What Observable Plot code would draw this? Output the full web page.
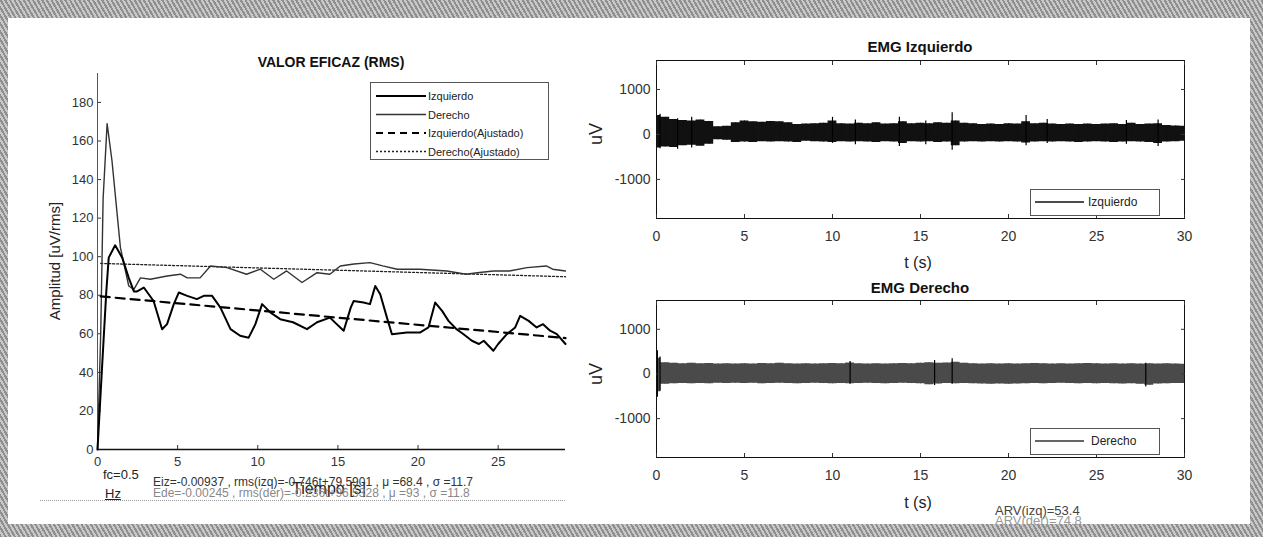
<!DOCTYPE html>
<html><head><meta charset="utf-8">
<script src="https://cdn.jsdelivr.net/npm/d3@7"></script>
<script src="https://cdn.jsdelivr.net/npm/@observablehq/plot@0.6"></script>
<style>
html,body{margin:0;padding:0;}
body{width:1263px;height:537px;position:relative;overflow:hidden;
  background:repeating-linear-gradient(60deg,#8f8f8f 0 2px,#c9c9c9 2px 4px);
  font-family:Arial,"Liberation Sans",sans-serif;color:#222;}
#panel{position:absolute;left:8px;top:18px;width:1242px;height:506px;background:#fff;}
.abs{position:absolute;white-space:nowrap;line-height:1;}
.chart{position:absolute;}
.leg{position:absolute;background:#fff;border:1px solid #555;font-size:11px;}
.leg svg{position:absolute;left:0;top:0;}
.leg span{position:absolute;white-space:nowrap;line-height:14px;}
</style></head>
<body>
<div id="panel"></div>
<div class="abs" style="left:40px;top:500px;width:525px;border-top:1px dotted #999;"></div>
<div id="left" class="chart" style="left:0;top:0;"></div>
<div id="rtop" class="chart" style="left:600px;top:0;"></div>
<div id="rbot" class="chart" style="left:600px;top:240px;"></div>
<script>
// ---------- data: RMS chart (left) ----------
const rmsIzqT = [0,0.3,0.55,0.7,1.1,1.54,1.95,2.27,2.47,2.89,3.5,4.03,4.34,4.76,5.07,5.6,6.2,6.63,7.15,7.67,8.3,8.9,9.43,9.85,10.27,10.8,11.4,12.2,13.07,13.7,14.5,15.36,15.8,15.98,16.6,17.0,17.33,17.64,18.06,18.37,19.3,20.14,20.65,21.07,21.5,21.9,22.4,22.84,23.36,23.8,24.1,24.4,24.7,25.0,25.54,26.06,26.37,26.9,27.4,27.8,28.24,28.66,29.2];
const rmsIzqV = [0,45,82,99.5,105.9,99.5,89,82,82,84,77,62.4,65,75.4,81.4,79.7,78,79.7,79.7,73.6,62.4,59,58,65,75.4,71,67.6,66,62.4,66,68.4,61.6,73.6,77,76.2,75.4,84.8,80.5,68.4,59.8,60.7,60.7,63.3,76.2,71.9,66.7,62.4,59.8,56.4,54.7,56.4,53.8,51.2,54.7,59.8,63.3,69.3,66.7,63.3,65,61.6,59.8,54.7];
const rmsDerT = [0,0.2,0.35,0.6,0.9,1.43,1.95,2.27,2.68,3.3,4.34,5.17,5.6,6.4,7.05,8.08,9.3,10.16,11.0,11.8,12.76,13.7,14.5,15.15,16.0,17.0,17.8,18.7,20.1,21.8,23.0,23.7,24.7,25.7,26.8,28.0,28.4,29.2];
const rmsDerV = [0,60,130,169,150,104.7,84.8,83,89,88.3,90,90.9,89,89,95.2,94.3,90.9,93.5,88.3,92.6,86.6,91.7,90.9,95.2,96.2,96.9,95.2,93.5,93.5,92.6,90.9,91.7,92.6,92.6,94.3,95.2,93.5,92.6];
const fitT = [0.2, 29.2];
const fitIzqV = [79.4, 57.8];
const fitDerV = [96.5, 89.6];
const leftXTicks = [0,5,10,15,20,25];
const leftYTicks = [0,20,40,60,80,100,120,140,160,180];

// ---------- data: EMG envelopes (right) ----------
const emgT = [0,0.5,1,1.5,2,2.5,3,3.5,4,4.5,5,5.5,6,6.5,7,7.5,8,8.5,9,9.5,10,10.5,11,11.5,12,12.5,13,13.5,14,14.5,15,15.5,16,16.5,17,17.5,18,18.5,19,19.5,20,20.5,21,21.5,22,22.5,23,23.5,24,24.5,25,25.5,26,26.5,27,27.5,28,28.5,29,29.5,30];
const izqHi = [420,380,330,310,300,320,290,170,180,260,300,280,270,290,280,260,220,230,240,250,300,240,230,250,240,260,230,240,280,240,250,240,260,250,300,250,240,220,230,220,240,230,280,240,250,230,220,230,220,230,220,230,240,220,250,220,230,240,200,190,180];
const izqLo = [-300,-280,-290,-250,-240,-260,-220,-120,-130,-180,-170,-180,-160,-170,-160,-170,-180,-150,-160,-170,-180,-160,-170,-160,-170,-180,-160,-170,-200,-160,-170,-160,-180,-170,-250,-170,-160,-170,-160,-170,-160,-170,-190,-170,-160,-170,-160,-170,-180,-170,-160,-170,-180,-170,-160,-170,-180,-200,-170,-160,-150];
const izqSpikeT = [0.2,1.2,2.0,10.0,11.3,13.8,15.3,16.8,21.0,22.2,26.7,28.5];
const izqSpikeHi = [450,350,380,380,320,380,300,480,420,330,310,320];
const izqSpikeLo = [-320,-330,-300,-200,-230,-270,-230,-350,-250,-200,-220,-270];
const derHi = [350,250,240,230,240,230,235,225,230,225,230,225,235,230,240,230,225,230,225,230,235,230,245,230,225,230,225,230,235,230,240,250,240,245,260,240,230,225,230,225,230,225,230,235,230,225,230,225,230,235,230,225,230,225,230,225,230,225,230,225,220];
const derLo = [-400,-230,-220,-215,-220,-215,-220,-210,-215,-210,-215,-210,-220,-215,-210,-215,-220,-215,-210,-215,-220,-215,-220,-215,-210,-215,-220,-215,-210,-215,-220,-240,-225,-215,-220,-215,-220,-225,-230,-225,-230,-225,-220,-215,-220,-215,-210,-215,-220,-215,-220,-215,-220,-225,-220,-230,-250,-225,-220,-215,-215];
const derSpikeT = [0.05,0.2,11,15.8,16.8,27.8];
const derSpikeHi = [520,380,280,300,340,240];
const derSpikeLo = [-520,-380,-230,-260,-230,-290];
const rightXTicks = [0,5,10,15,20,25,30];
const rightYTicks = [-1000,0,1000];

// ---------- build ----------
const zip = (t, v) => t.map((x, i) => ({t: x, v: v[i]}));
const font = "Arial, 'Liberation Sans', sans-serif";
const plain = d => String(d).replace("\u2212", "-");

const left = Plot.plot({
  width: 600, height: 510,
  marginLeft: 97, marginRight: 35, marginTop: 73, marginBottom: 61,
  x: {domain: [0, 29.2]}, y: {domain: [0, 195]},
  style: {fontFamily: font, fontSize: "13px", color: "#333", background: "transparent", overflow: "visible"},
  marks: [
    Plot.axisX({ticks: leftXTicks, tickSize: -4, tickPadding: 11, tickFormat: plain, label: null}),
    Plot.axisY({ticks: leftYTicks, tickSize: -4, tickPadding: 8, tickFormat: plain, label: null}),
    Plot.ruleX([0], {stroke: "#555"}),
    Plot.ruleY([0], {stroke: "#111", strokeWidth: 1.5}),
    Plot.line(zip(fitT, fitDerV), {x: "t", y: "v", stroke: "#222", strokeWidth: 1.3, strokeDasharray: "2,2"}),
    Plot.line(zip(rmsDerT, rmsDerV), {x: "t", y: "v", stroke: "#333", strokeWidth: 1.4}),
    Plot.line(zip(fitT, fitIzqV), {x: "t", y: "v", stroke: "#000", strokeWidth: 2.2, strokeDasharray: "9,6"}),
    Plot.line(zip(rmsIzqT, rmsIzqV), {x: "t", y: "v", stroke: "#000", strokeWidth: 2})
  ]
});
document.getElementById("left").appendChild(left);

function emgPlot(hi, lo, sT, sHi, sLo, fill, mTop, mBottom) {
  const band = emgT.map((t, i) => ({t, hi: hi[i], lo: lo[i]}));
  const spikes = sT.map((t, i) => ({t, hi: sHi[i], lo: sLo[i]}));
  return Plot.plot({
    width: 620, height: 260,
    marginLeft: 56, marginRight: 36, marginTop: mTop, marginBottom: mBottom,
    x: {domain: [0, 30]}, y: {domain: [-1870, 1645]},
    style: {fontFamily: font, fontSize: "14px", color: "#333", background: "transparent", overflow: "visible"},
    marks: [
      Plot.areaY(band, {x: "t", y1: "lo", y2: "hi", fill, curve: "step"}),
      Plot.ruleX(band, {x: "t", y1: "lo", y2: "hi", stroke: fill, strokeWidth: 1}),
      Plot.ruleX(spikes, {x: "t", y1: "lo", y2: "hi", stroke: "#000", strokeWidth: 1.2}),
      Plot.frame({stroke: "#111"}),
      Plot.axisX({ticks: rightXTicks, tickSize: -4, tickPadding: 17, tickFormat: plain, label: null}),
      Plot.axisX({ticks: rightXTicks, anchor: "top", tickSize: -4, tickFormat: () => "", label: null}),
      Plot.axisY({ticks: rightYTicks, tickSize: -4, tickPadding: 10, tickFormat: plain, label: null}),
      Plot.axisY({ticks: rightYTicks, anchor: "right", tickSize: -4, tickFormat: () => "", label: null})
    ]
  });
}
document.getElementById("rtop").appendChild(emgPlot(izqHi, izqLo, izqSpikeT, izqSpikeHi, izqSpikeLo, "#111", 60, 42));
document.getElementById("rbot").appendChild(emgPlot(derHi, derLo, derSpikeT, derSpikeHi, derSpikeLo, "#4a4a4a", 60, 43));

// ---------- text ----------
function txt(s, x, y, css) {
  const d = document.createElement("div");
  d.className = "abs"; d.textContent = s;
  d.style.cssText += `left:${x}px;top:${y}px;` + (css || "");
  document.body.appendChild(d);
  return d;
}
function centered(s, cx, cy, css, rot) {
  const d = txt(s, cx, cy, css);
  d.style.transform = "translate(-50%,-50%)" + (rot ? " rotate(-90deg)" : "");
  return d;
}
centered("VALOR EFICAZ (RMS)", 331, 62, "font-weight:bold;font-size:14px;color:#111;");
centered("EMG Izquierdo", 920, 46, "font-weight:bold;font-size:15px;color:#111;");
centered("EMG Derecho", 920, 287, "font-weight:bold;font-size:15px;color:#111;");
centered("Amplitud [uV/rms]", 54, 261, "font-size:15px;", true);
centered("uV", 596, 134, "font-size:18px;", true);
centered("uV", 596, 374, "font-size:18px;", true);
centered("t (s)", 918, 263, "font-size:16px;");
centered("t (s)", 918, 503, "font-size:16px;");
centered("Tiempo [s]", 329, 489, "font-size:16px;color:#222;");
txt("fc=0.5", 103, 468, "font-size:13px;");
txt("Hz", 105, 487, "font-size:13px;text-decoration:underline;");
txt("Eiz=-0.00937 ,  rms(izq)=-0.746t+79.5901 , μ =68.4 , σ =11.7", 153, 476, "font-size:12px;color:#333;");
txt("Ede=-0.00245 ,  rms(der)=-0.236t+96.5328 , μ =93 , σ =11.8", 153, 487, "font-size:12px;color:#888;");
txt("ARV(izq)=53.4", 995, 504, "font-size:13px;color:#444;");
txt("ARV(der)=74.8", 995, 514, "font-size:13px;color:#999;");

// ---------- legends ----------
function legend(x, y, w, h, rows, top0, step, lineX1, lineX2, textX, fs) {
  const box = document.createElement("div");
  box.className = "leg";
  box.style.cssText += `left:${x}px;top:${y}px;width:${w}px;height:${h}px;font-size:${fs}px;`;
  rows.forEach((r, i) => {
    const cy = top0 + i * step;
    const svg = document.createElementNS("http://www.w3.org/2000/svg", "svg");
    svg.setAttribute("width", w); svg.setAttribute("height", h);
    svg.style.cssText = "position:absolute;left:0;top:0;overflow:visible";
    const ln = document.createElementNS("http://www.w3.org/2000/svg", "line");
    ln.setAttribute("x1", lineX1); ln.setAttribute("x2", lineX2);
    ln.setAttribute("y1", cy); ln.setAttribute("y2", cy);
    ln.setAttribute("stroke", r.c); ln.setAttribute("stroke-width", r.w);
    if (r.d) ln.setAttribute("stroke-dasharray", r.d);
    svg.appendChild(ln); box.appendChild(svg);
    const sp = document.createElement("span");
    sp.textContent = r.label;
    sp.style.cssText = `left:${textX}px;top:${cy - 7}px;`;
    box.appendChild(sp);
  });
  document.body.appendChild(box);
}
const leftLegendLabels = ["Izquierdo", "Derecho", "Izquierdo(Ajustado)", "Derecho(Ajustado)"];
legend(370, 82, 177, 76, [
  {label: leftLegendLabels[0], c: "#000", w: 2},
  {label: leftLegendLabels[1], c: "#333", w: 1.4},
  {label: leftLegendLabels[2], c: "#000", w: 2.2, d: "7,5"},
  {label: leftLegendLabels[3], c: "#222", w: 1.3, d: "2,2"}
], 13, 18.5, 5, 55, 57, 11);
legend(1030, 189, 128, 25, [{label: "Izquierdo", c: "#111", w: 1.4}], 12, 0, 4, 53, 57, 12);
legend(1030, 428, 128, 25, [{label: "Derecho", c: "#333", w: 1.4}], 12, 0, 4, 53, 60, 12);
</script>
</body></html>
